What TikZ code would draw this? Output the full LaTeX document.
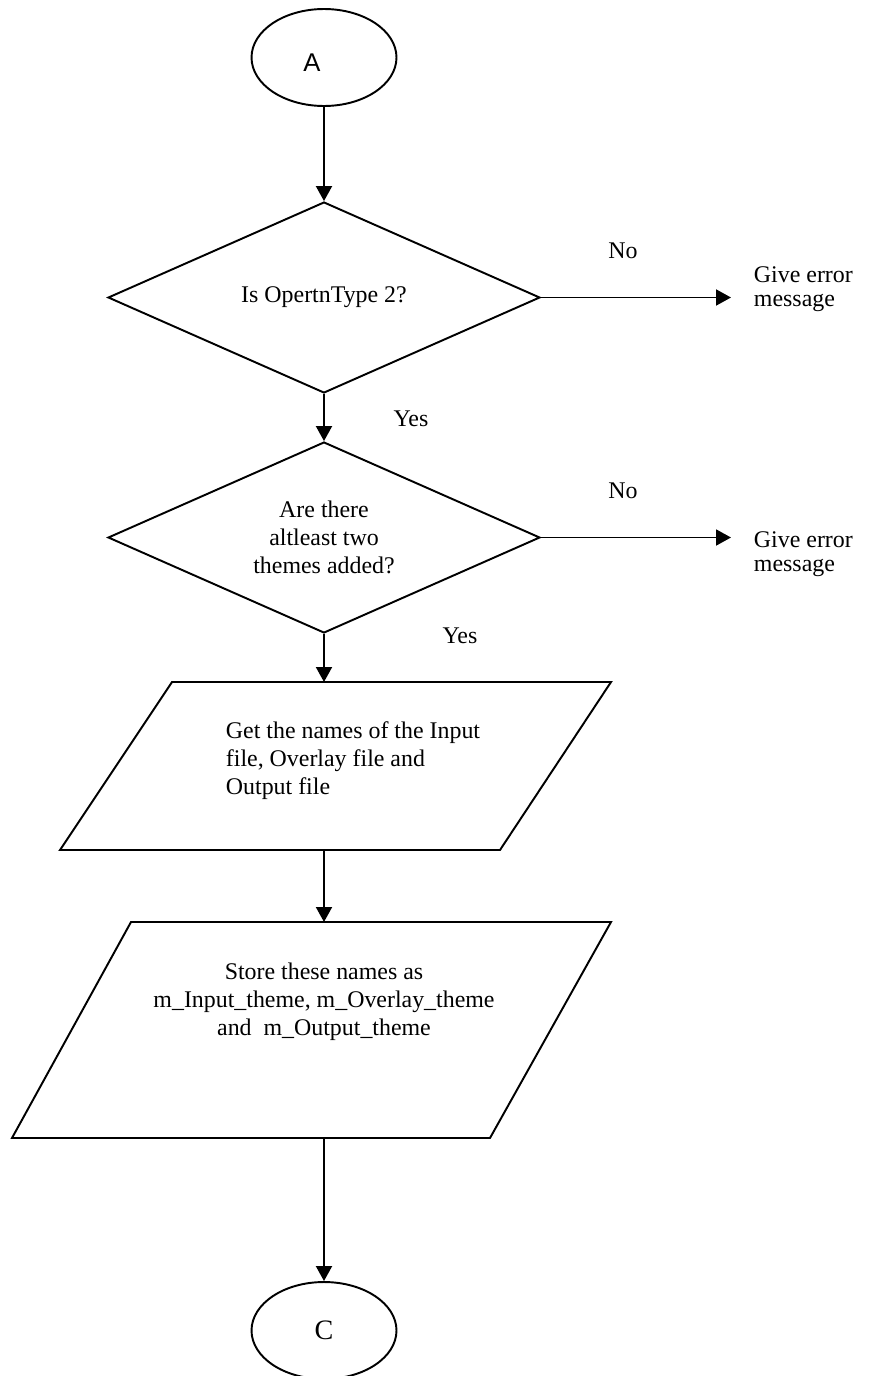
\documentclass[tikz,border=0pt]{standalone}
\usepackage{fontspec}
\setmainfont{Liberation Serif}
\newfontfamily\termfont{Liberation Sans}
\usetikzlibrary{shapes.geometric,arrows.meta}

\begin{document}
\begin{tikzpicture}[
    x=0.02cm, y=-0.02cm,
    line width=1.1pt,
    font=\fontsize{13.6}{15.9}\selectfont,
    term/.style={ellipse, draw, inner sep=0pt, minimum width=2.9cm,
                 minimum height=1.94cm},
    decide/.style={diamond, draw, aspect=2.26, inner sep=0pt, align=center,
                   minimum width=8.64cm, minimum height=3.82cm},
    io/.style={draw, line join=miter},
    lbl/.style={inner sep=0pt},
    msg/.style={inner sep=0pt, anchor=west, align=left,
                font=\fontsize{13.6}{13.7}\selectfont},
    arr/.style={-{Triangle[length=0.3cm, width=0.32cm]}},
  ]
  \useasboundingbox (0,0) rectangle (869,1376);

  % start and end connectors
  \node[term, label={[lbl, xshift=-0.24cm, yshift=-0.1cm,
        font=\termfont\fontsize{14.6}{15}\selectfont]center:A}] (a) at (324,57.5) {};
  \node[term, font=\fontsize{16}{17}\selectfont] (c) at (324,1330.5) {C};

  % the two checks
  \node[decide] (d1) at (324,297.5) {Is OpertnType 2?};
  \node[decide] (d2) at (324,537.5) {Are there\\altleast two\\themes added?};

  % input / output boxes
  \draw[io] (172,682) -- (611,682) -- (500,850) -- (60,850) -- cycle;
  \draw[io] (131,922) -- (611,922) -- (490,1138) -- (12,1138) -- cycle;
  \coordinate (p1n) at (324,682);
  \coordinate (p1s) at (324,850);
  \coordinate (p2n) at (324,922);
  \coordinate (p2s) at (324,1138);
  \node[lbl, align=left] (p1txt) at (353,761)
    {Get the names of the Input\\file, Overlay file and\\Output file};
  \node[lbl, align=center] (p2txt) at (324,1002)
    {Store these names as\\m\_Input\_theme, m\_Overlay\_theme\\and\ \ m\_Output\_theme};

  % branch labels
  \node[lbl] (no1) at (623,251) {No};
  \node[lbl] (no2) at (623,491) {No};
  \node[lbl] (yes1) at (411,419) {Yes};
  \node[lbl] (yes2) at (460,636) {Yes};
  \node[msg] (err1) at (753,289.5) {Give error\\message};
  \node[msg] (err2) at (753,554) {Give error\\message};
  \coordinate (e1) at (731,297.5);
  \coordinate (e2) at (731,537.5);

  % flow
  \draw[arr] (a) -- (d1);
  \draw[arr] (d1.east) -- (e1);
  \draw[arr] (d1) -- (d2);
  \draw[arr] (d2.east) -- (e2);
  \draw[arr] (d2.south) -- (p1n);
  \draw[arr] (p1s) -- (p2n);
  \draw[arr] (p2s) -- (c);
\end{tikzpicture}
\end{document}
